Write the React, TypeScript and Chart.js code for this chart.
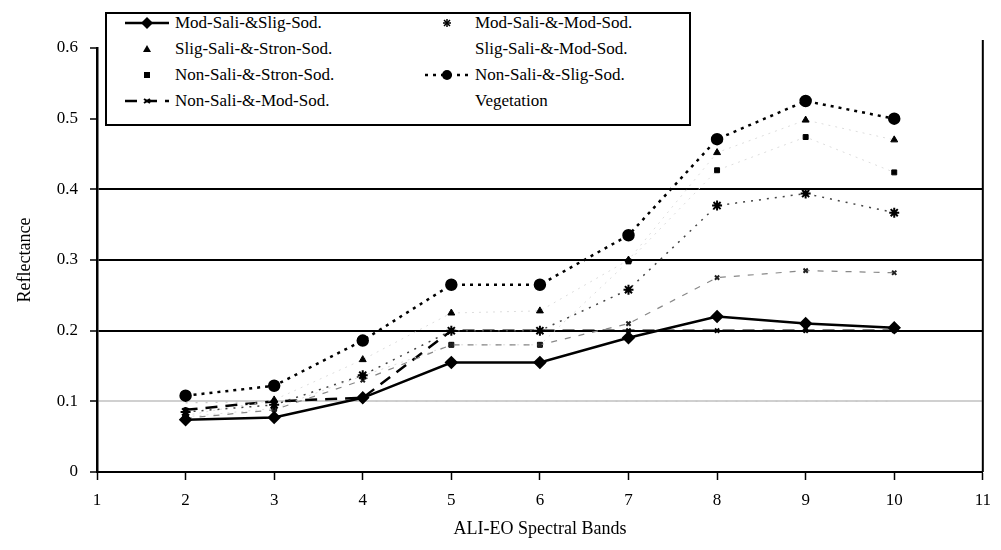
import React, { useEffect, useRef } from "react";
import Chart from "chart.js/auto";

const bands = [2, 3, 4, 5, 6, 7, 8, 9, 10];
const yTickValues = [0, 0.1, 0.2, 0.3, 0.4, 0.5, 0.6];

const modSaliSligSod = [0.074, 0.077, 0.105, 0.155, 0.155, 0.19, 0.22, 0.21, 0.204];
const modSaliModSod = [0.085, 0.095, 0.137, 0.2, 0.2, 0.258, 0.377, 0.394, 0.367];
const sligSaliStronSod = [0.08, 0.102, 0.159, 0.225, 0.228, 0.3, 0.452, 0.498, 0.47];
const sligSaliModSod = [0.076, 0.088, 0.13, 0.18, 0.18, 0.21, 0.275, 0.285, 0.282];
const nonSaliStronSod = [0.078, 0.09, 0.136, 0.18, 0.18, 0.298, 0.427, 0.474, 0.424];
const nonSaliSligSod = [0.108, 0.122, 0.186, 0.265, 0.265, 0.335, 0.471, 0.525, 0.5];
const nonSaliModSod = [0.088, 0.1, 0.105, 0.2, 0.2, 0.2, 0.2, 0.2, 0.2];
const vegetation = [0.098, 0.1, 0.1, 0.1, 0.1, 0.1, 0.1, 0.1, 0.1];

const seriesNames = [
  "Mod-Sali-&Slig-Sod.",
  "Mod-Sali-&-Mod-Sod.",
  "Slig-Sali-&-Stron-Sod.",
  "Slig-Sali-&-Mod-Sod.",
  "Non-Sali-&-Stron-Sod.",
  "Non-Sali-&-Slig-Sod.",
  "Non-Sali-&-Mod-Sod.",
  "Vegetation",
];
const seriesValues = [
  modSaliSligSod,
  modSaliModSod,
  sligSaliStronSod,
  sligSaliModSod,
  nonSaliStronSod,
  nonSaliSligSod,
  nonSaliModSod,
  vegetation,
];

const styles: any[] = [
  { borderColor: "#000", borderWidth: 2.5, borderDash: [], pointStyle: "rectRot", pointRadius: 5, pointBackgroundColor: "#000", pointBorderColor: "#000" },
  { borderColor: "#444", borderWidth: 1.5, borderDash: [2, 6], pointStyle: "star", pointRadius: 5, pointBackgroundColor: "#000", pointBorderColor: "#000", pointBorderWidth: 2 },
  { borderColor: "#dddddd", borderWidth: 1, borderDash: [2, 5], pointStyle: "triangle", pointRadius: 4, pointBackgroundColor: "#000", pointBorderColor: "#000" },
  { borderColor: "#888", borderWidth: 1.2, borderDash: [6, 8], pointStyle: "crossRot", pointRadius: 3, pointBackgroundColor: "#000", pointBorderColor: "#222", pointBorderWidth: 2 },
  { borderColor: "#dddddd", borderWidth: 1, borderDash: [2, 5], pointStyle: "rect", pointRadius: 3.5, pointBackgroundColor: "#000", pointBorderColor: "#000" },
  { borderColor: "#000", borderWidth: 2.5, borderDash: [3, 5], pointStyle: "circle", pointRadius: 5, pointBackgroundColor: "#000", pointBorderColor: "#000" },
  { borderColor: "#000", borderWidth: 2.5, borderDash: [12, 8], pointStyle: "crossRot", pointRadius: 3, pointBackgroundColor: "#000", pointBorderColor: "#000", pointBorderWidth: 2 },
  { borderColor: "#c8c8c8", borderWidth: 1.5, borderDash: [2, 8], pointStyle: "circle", pointRadius: 0, pointBackgroundColor: "#c8c8c8", pointBorderColor: "#c8c8c8" },
];

const FONT = "'Liberation Serif', 'DejaVu Serif', serif";

const frameBorder = {
  id: "frameBorder",
  afterDraw(chart: any) {
    const { ctx, chartArea } = chart;
    ctx.save();
    ctx.strokeStyle = "#000";
    ctx.lineWidth = 2;
    ctx.beginPath();
    ctx.moveTo(chartArea.right, chartArea.top - 8);
    ctx.lineTo(chartArea.right, chartArea.bottom);
    ctx.stroke();
    ctx.restore();
  },
};

function Sample({ i }: { i: number }) {
  const s = styles[i];
  const showLine = i === 0 || i === 5 || i === 6;
  const dash = s.borderDash && s.borderDash.length ? s.borderDash.join(",") : undefined;
  const cx = 24, cy = 8;
  let marker: any = null;
  if (i === 0) marker = <polygon points={`${cx},${cy - 6} ${cx + 6},${cy} ${cx},${cy + 6} ${cx - 6},${cy}`} fill="#000" />;
  if (i === 1) marker = <g stroke="#000" strokeWidth="1.5"><line x1={cx - 4} y1={cy} x2={cx + 4} y2={cy} /><line x1={cx} y1={cy - 4} x2={cx} y2={cy + 4} /><line x1={cx - 3} y1={cy - 3} x2={cx + 3} y2={cy + 3} /><line x1={cx - 3} y1={cy + 3} x2={cx + 3} y2={cy - 3} /></g>;
  if (i === 2) marker = <polygon points={`${cx},${cy - 4} ${cx + 4},${cy + 3} ${cx - 4},${cy + 3}`} fill="#000" />;
  if (i === 4) marker = <rect x={cx - 3} y={cy - 3} width={6} height={6} fill="#000" />;
  if (i === 5) marker = <circle cx={cx} cy={cy} r={5} fill="#000" />;
  if (i === 6) marker = <g stroke="#000" strokeWidth="2"><line x1={cx - 3} y1={cy - 2} x2={cx + 3} y2={cy + 2} /><line x1={cx - 3} y1={cy + 2} x2={cx + 3} y2={cy - 2} /></g>;
  return (
    <svg width={48} height={16} style={{ display: "block" }}>
      {showLine && <line x1={2} y1={cy} x2={46} y2={cy} stroke="#000" strokeWidth={2.5} strokeDasharray={dash} />}
      {marker}
    </svg>
  );
}

export default function App() {
  const ref = useRef<HTMLCanvasElement | null>(null);

  useEffect(() => {
    if (!ref.current) return;
    const datasets = seriesNames.map((name, i) => ({
      label: name,
      data: bands.map((b, j) => ({ x: b, y: seriesValues[i][j] })),
      fill: false,
      tension: 0,
      ...styles[i],
    }));
    const gridColor = (ctx: any) => {
      const v = Math.round((ctx.tick ? ctx.tick.value : 0) * 10);
      if (v === 1) return "#d0d0d0";
      if (v === 5 || v === 6) return "rgba(0,0,0,0)";
      if (v === 0) return "rgba(0,0,0,0)";
      return "#000";
    };
    const chart = new Chart(ref.current, {
      type: "line",
      data: { datasets },
      plugins: [frameBorder],
      options: {
        animation: false,
        responsive: false,
        maintainAspectRatio: false,
        layout: { padding: { top: 48, right: 13, bottom: 10, left: 14 } },
        plugins: { legend: { display: false }, tooltip: { enabled: false } },
        scales: {
          x: {
            type: "linear",
            min: 1,
            max: 11,
            afterFit: (scale: any) => { scale.height = 68; },
            ticks: { stepSize: 1, color: "#000", font: { family: FONT, size: 17 }, padding: 10, autoSkip: false, maxRotation: 0 },
            grid: { drawOnChartArea: false, drawTicks: true, tickLength: 8, tickColor: "#000", tickWidth: 1.5 },
            border: { display: true, color: "#000", width: 2 },
            title: { display: true, text: "ALI-EO Spectral Bands", color: "#000", font: { family: FONT, size: 18 }, padding: { top: 0, bottom: 0 } },
          },
          y: {
            type: "linear",
            min: 0,
            max: 0.6,
            afterFit: (scale: any) => { scale.width = 83; },
            afterBuildTicks: (scale: any) => { scale.ticks = yTickValues.map((v) => ({ value: v })); },
            ticks: { color: "#000", font: { family: FONT, size: 17 }, padding: 12, callback: (v: any) => (Number(v) === 0 ? "0" : Number(v).toFixed(1)) },
            grid: { color: gridColor, lineWidth: 2, drawTicks: true, tickLength: 7, tickColor: "#000", tickWidth: 1.5 },
            border: { display: true, color: "#000", width: 2.5 },
            title: { display: true, text: "Reflectance", color: "#000", font: { family: FONT, size: 18 }, padding: { top: 0, bottom: 6 } },
          },
        },
      },
    } as any);
    return () => chart.destroy();
  }, []);

  const rowTops = [9, 35, 61, 87];
  return (
    <div style={{ position: "absolute", left: 0, top: 0, width: 1001, height: 550, background: "#fff" }}>
      <canvas ref={ref} width={1001} height={550} style={{ display: "block", width: 1001, height: 550 }} />
      <div
        style={{
          position: "absolute",
          left: 105,
          top: 12,
          width: 586,
          height: 114,
          border: "2px solid #000",
          background: "#fff",
          fontFamily: FONT,
          fontSize: 17,
          color: "#000",
          boxSizing: "border-box",
        }}
      >
        {seriesNames.map((name, i) => {
          const col = i % 2;
          const row = Math.floor(i / 2);
          return (
            <div key={name} style={{ position: "absolute", left: col === 0 ? 16 : 316, top: rowTops[row] - 11, height: 22, display: "flex", alignItems: "center", whiteSpace: "nowrap" }}>
              <Sample i={i} />
              <span style={{ marginLeft: 4, lineHeight: "22px" }}>{name}</span>
            </div>
          );
        })}
      </div>
    </div>
  );
}
